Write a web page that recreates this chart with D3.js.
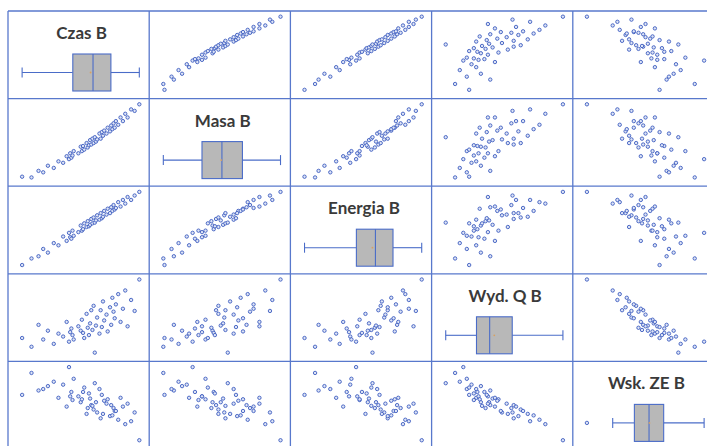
<!DOCTYPE html>
<html>
<head>
<meta charset="utf-8">
<script src="https://cdn.jsdelivr.net/npm/d3@7"></script>
<style>
  body { margin: 0; background: #fff; }
  svg { display: block; }
</style>
</head>
<body>
<svg id="matrix"></svg>
<script>
// Variable names (diagonal titles)
var names = ["Czas B", "Masa B", "Energia B", "Wyd. Q B", "Wsk. ZE B"];

// One value per sample, same order in every array (relative units)
var czas = [0, 8, 14, 18, 22, 27, 31, 35, 38, 40, 41, 42, 43, 44, 48, 50, 51, 52, 53, 55,
            56, 57, 58, 59, 60, 61, 62, 63, 64, 66, 67, 68, 69, 70, 72, 73, 75, 76, 77, 78,
            79, 80, 82, 84, 86, 88, 90, 93, 96, 100];
var masa = [1, 0, 9, 7, 16, 13, 22, 20, 29, 25, 33, 27, 30, 36, 33, 42, 36, 43, 38, 47,
            41, 44, 51, 45, 53, 47, 55, 49, 52, 60, 53, 62, 57, 64, 60, 68, 63, 71, 66, 74,
            68, 77, 72, 82, 77, 87, 82, 93, 91, 100];
var energia = [0, 9, 12, 22, 17, 30, 27, 39, 33, 44, 38, 36, 47, 40, 45, 54, 47, 49, 57, 52,
               60, 53, 55, 63, 57, 65, 58, 61, 68, 62, 71, 64, 66, 74, 69, 77, 71, 79, 74, 82,
               76, 78, 86, 80, 89, 84, 93, 89, 95, 100];
var wydQ = [20, 8, 38, 18, 30, 12, 26, 22, 42, 15, 28, 33, 24, 18, 36, 30, 45, 27, 20, 53,
            34, 24, 40, 58, 31, 64, 0, 37, 48, 26, 58, 35, 70, 44, 52, 29, 62, 38, 75, 56,
            47, 66, 80, 42, 60, 85, 36, 72, 57, 100];
var wskZE = [62, 92, 68, 70, 74, 80, 58, 76, 46, 100, 60, 66, 55, 84, 60, 52, 56, 66, 72, 36,
             44, 64, 57, 48, 47, 42, 78, 52, 38, 70, 30, 62, 36, 54, 50, 56, 33, 48, 34, 44,
             40, 40, 28, 58, 46, 22, 50, 26, 38, 0];

var series = [czas, masa, energia, wydQ, wskZE];

// Layout of the matrix (it runs past the right and bottom edge of the picture)
var origin = { x: 8, y: 11 };
var cellW = 141.2, cellH = 87.6;
var n = names.length;
var lineColor = "#5878cc";
var dotStroke = "#3d5cc0";

var svg = d3.select("#matrix")
    .attr("width", 707)
    .attr("height", 446);

// Scales inside one cell, one per variable
var xScales = series.map(function(vals) {
    return d3.scaleLinear().domain(d3.extent(vals)).range([0.1 * cellW, 0.93 * cellW]);
});
var yScales = series.map(function(vals) {
    return d3.scaleLinear().domain(d3.extent(vals)).range([0.9 * cellH, 0.065 * cellH]);
});

// Grid lines
var grid = svg.append("g").attr("stroke", lineColor).attr("stroke-width", 1.3);
d3.range(n + 1).forEach(function(i) {
    grid.append("line")
        .attr("x1", origin.x + i * cellW).attr("x2", origin.x + i * cellW)
        .attr("y1", origin.y).attr("y2", origin.y + n * cellH);
    grid.append("line")
        .attr("x1", origin.x).attr("x2", origin.x + n * cellW)
        .attr("y1", origin.y + i * cellH).attr("y2", origin.y + i * cellH);
});

function drawDots(g, pts) {
    g.selectAll("circle.dot")
        .data(pts)
        .enter().append("circle")
        .attr("class", "dot")
        .attr("cx", function(d) { return d[0]; })
        .attr("cy", function(d) { return d[1]; })
        .attr("r", 1.7)
        .attr("fill", "#dde4f6")
        .attr("stroke", dotStroke)
        .attr("stroke-width", 0.9);
}

function drawBox(g, i) {
    var vals = series[i].slice().sort(d3.ascending);
    var x = xScales[i];
    var q1 = d3.quantile(vals, 0.25), med = d3.quantile(vals, 0.5), q3 = d3.quantile(vals, 0.75);
    var iqr = q3 - q1;
    var inside = vals.filter(function(v) { return v >= q1 - 1.5 * iqr && v <= q3 + 1.5 * iqr; });
    var lo = d3.min(inside), hi = d3.max(inside);
    var outliers = vals.filter(function(v) { return v < lo || v > hi; });
    var cy = 61.5, boxTop = 43, boxBot = 80;

    g.append("text")
        .attr("x", cellW / 2 + 3)
        .attr("y", 28)
        .attr("text-anchor", "middle")
        .attr("font-family", "Lato, 'Open Sans', sans-serif")
        .attr("font-weight", "bold")
        .attr("font-size", 17)
        .attr("fill", "#3a3a3a")
        .text(names[i]);

    var b = g.append("g").attr("stroke", "#4a6cc8").attr("stroke-width", 1.1);
    b.append("line").attr("x1", x(lo)).attr("x2", x(q1)).attr("y1", cy).attr("y2", cy);
    b.append("line").attr("x1", x(q3)).attr("x2", x(hi)).attr("y1", cy).attr("y2", cy);
    [lo, hi].forEach(function(v) {
        b.append("line").attr("x1", x(v)).attr("x2", x(v)).attr("y1", cy - 5).attr("y2", cy + 5);
    });
    b.append("rect")
        .attr("x", x(q1)).attr("y", boxTop)
        .attr("width", x(q3) - x(q1)).attr("height", boxBot - boxTop)
        .attr("fill", "#b8b8b8");
    b.append("line").attr("x1", x(med)).attr("x2", x(med)).attr("y1", boxTop).attr("y2", boxBot);

    // mean marker
    g.append("circle")
        .attr("cx", x(d3.mean(vals))).attr("cy", cy)
        .attr("r", 0.9).attr("fill", "#d8a060");

    drawDots(g, outliers.map(function(v) { return [x(v), cy]; }));
}

// Cells
for (var r = 0; r < n; r++) {
    for (var c = 0; c < n; c++) {
        var cell = svg.append("g")
            .attr("transform", "translate(" + (origin.x + c * cellW) + "," + (origin.y + r * cellH) + ")");
        if (r === c) {
            drawBox(cell, r);
        } else {
            var xs = series[c], ys = series[r];
            var pts = xs.map(function(v, k) { return [xScales[c](v), yScales[r](ys[k])]; });
            drawDots(cell, pts);
        }
    }
}
</script>
</body>
</html>
